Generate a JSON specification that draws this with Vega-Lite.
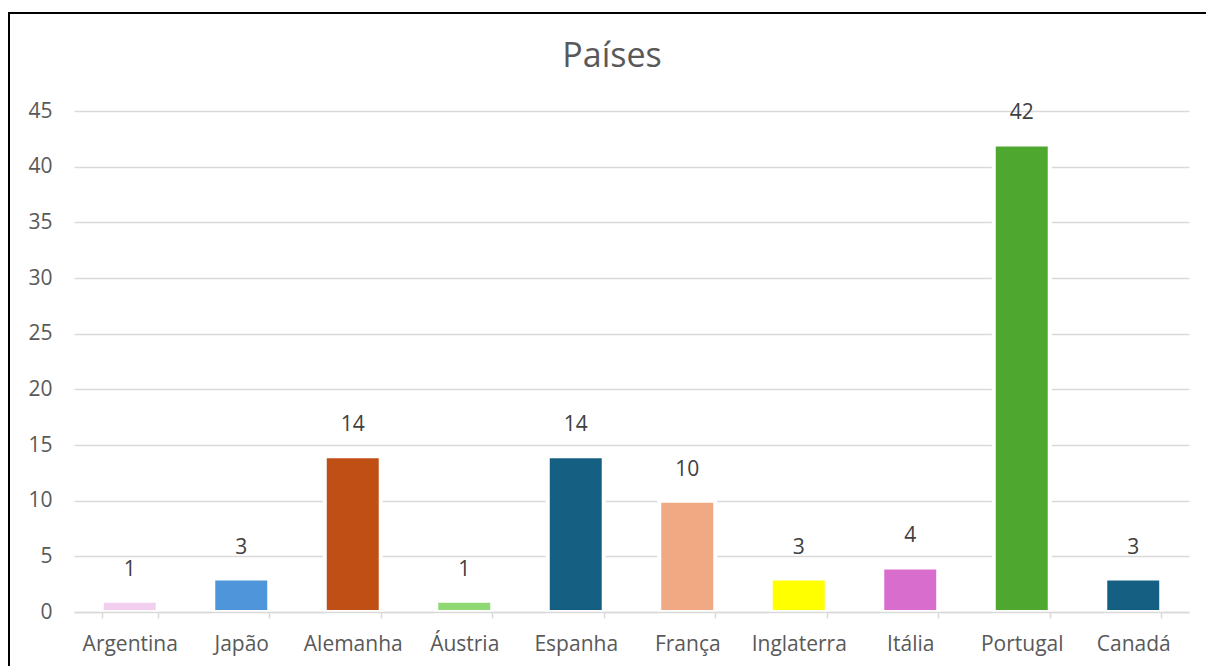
{
  "$schema": "https://vega.github.io/schema/vega-lite/v6.json",
  "usermeta": {"embedOptions": {"actions": false}},
  "width": 1206,
  "height": 670,
  "autosize": "none",
  "padding": {"left": 9, "top": 13, "right": 0, "bottom": 0},
  "background": "white",
  "config": {
    "font": "Open Sans",
    "view": {"stroke": "#000000", "strokeWidth": 2},
    "axis": {"labelFont": "Open Sans", "labelColor": "#595959", "labelFontSize": 21}
  },
  "title": {
    "text": "Países",
    "fontSize": 34,
    "fontWeight": "normal",
    "color": "#595959",
    "anchor": "middle",
    "frame": "group",
    "baseline": "alphabetic",
    "offset": -88
  },
  "data": {
    "values": [
      {"pais": "Argentina", "total": 1},
      {"pais": "Japão", "total": 3},
      {"pais": "Alemanha", "total": 14},
      {"pais": "Áustria", "total": 1},
      {"pais": "Espanha", "total": 14},
      {"pais": "França", "total": 10},
      {"pais": "Inglaterra", "total": 3},
      {"pais": "Itália", "total": 4},
      {"pais": "Portugal", "total": 42},
      {"pais": "Canadá", "total": 3}
    ]
  },
  "encoding": {
    "x": {
      "field": "pais",
      "type": "nominal",
      "sort": null,
      "scale": {"range": [65, 1180], "paddingInner": 0.498, "paddingOuter": 0.249},
      "axis": {
        "title": null,
        "orient": "bottom",
        "offset": -71,
        "zindex": 1,
        "labelAngle": 0,
        "labelBaseline": "alphabetic",
        "labelPadding": 32,
        "domainColor": "#d9d9d9",
        "domainWidth": 1.5,
        "tickBand": "extent",
        "tickColor": "#d9d9d9",
        "tickWidth": 1.5,
        "tickSize": 6,
        "grid": false
      }
    },
    "y": {
      "field": "total",
      "type": "quantitative",
      "scale": {"domain": [0, 45], "range": [599, 98], "nice": false},
      "axis": {
        "title": null,
        "orient": "left",
        "offset": -65,
        "values": [0, 5, 10, 15, 20, 25, 30, 35, 40, 45],
        "domain": false,
        "ticks": false,
        "tickSize": 0,
        "labelPadding": 22,
        "grid": true,
        "gridColor": "#d9d9d9",
        "gridWidth": 1.5
      }
    }
  },
  "layer": [
    {
      "mark": {"type": "bar", "stroke": "white", "strokeWidth": 4},
      "encoding": {
        "color": {
          "field": "pais",
          "type": "nominal",
          "legend": null,
          "scale": {
            "domain": ["Argentina", "Japão", "Alemanha", "Áustria", "Espanha", "França", "Inglaterra", "Itália", "Portugal", "Canadá"],
            "range": ["#f2cfee", "#4e95d9", "#c04f15", "#8ed973", "#156082", "#f1a983", "#ffff00", "#d86dcd", "#4ea72e", "#156082"]
          }
        }
      }
    },
    {
      "mark": {"type": "text", "baseline": "alphabetic", "dy": -25, "fontSize": 21, "color": "#404040", "font": "Open Sans"},
      "encoding": {"text": {"field": "total", "type": "quantitative"}}
    }
  ]
}
